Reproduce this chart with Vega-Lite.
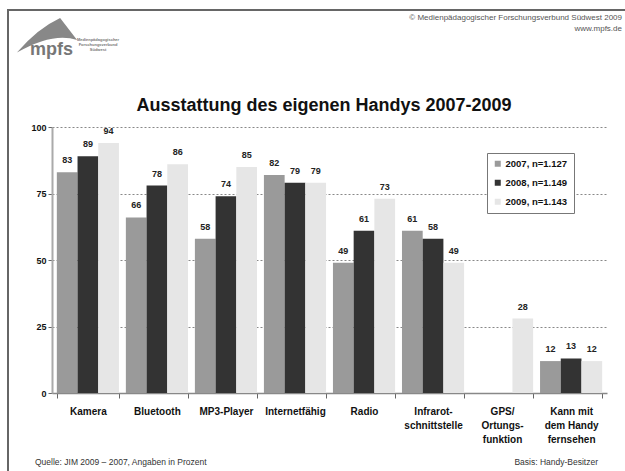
{
  "$schema": "https://vega.github.io/schema/vega-lite/v6.json",
  "autosize": {"type": "none"},
  "padding": {"left": 52, "top": 127, "right": 18, "bottom": 78},
  "width": 555,
  "height": 266,
  "background": "white",
  "config": {
    "font": "Liberation Sans",
    "view": {"stroke": null}
  },
  "layer": [
    {
      "data": {"values": [{}]},
      "mark": {"type": "rect", "fill": null, "stroke": "#666", "strokeWidth": 2},
      "encoding": {
        "x": {"value": -44},
        "x2": {"value": 700},
        "y": {"value": -117},
        "y2": {"value": 420}
      }
    },
    {
      "data": {"values": [{}]},
      "mark": {"type": "text", "text": "Ausstattung des eigenen Handys 2007-2009", "fontSize": 18, "fontWeight": "bold", "color": "#111", "align": "center", "baseline": "alphabetic"},
      "encoding": {"x": {"value": 272}, "y": {"value": -16}}
    },
    {
      "data": {"values": [{}]},
      "mark": {"type": "point", "shape": "M -0.94 0.55 Q -0.3 -0.2 0.41 -0.53 L 0.94 0.16 Q 0.2 -0.1 -0.94 0.55 Z", "filled": true, "fill": "#888", "opacity": 1, "size": 4096},
      "encoding": {"x": {"value": -5}, "y": {"value": -92}}
    },
    {
      "data": {"values": [{}]},
      "mark": {"type": "text", "text": "mpfs", "fontSize": 18, "fontWeight": "bold", "color": "#777", "align": "left", "baseline": "alphabetic"},
      "encoding": {"x": {"value": -22}, "y": {"value": -72}}
    },
    {
      "data": {"values": [{"t": "Medienpädagogischer", "yy": -87}, {"t": "Forschungsverbund", "yy": -82}, {"t": "Südwest", "yy": -77}]},
      "mark": {"type": "text", "fontSize": 4, "fontWeight": "bold", "color": "#777", "align": "center"},
      "encoding": {"x": {"value": 46}, "y": {"field": "yy", "type": "quantitative", "scale": null}, "text": {"field": "t"}}
    },
    {
      "data": {"values": [{}]},
      "mark": {"type": "text", "text": "© Medienpädagogischer Forschungsverbund Südwest 2009", "fontSize": 8, "color": "#555", "align": "right", "baseline": "alphabetic"},
      "encoding": {"x": {"value": 570}, "y": {"value": -107}}
    },
    {
      "data": {"values": [{}]},
      "mark": {"type": "text", "text": "www.mpfs.de", "fontSize": 8, "color": "#555", "align": "right", "baseline": "alphabetic"},
      "encoding": {"x": {"value": 570}, "y": {"value": -96}}
    },
    {
      "data": {"values": [{}]},
      "mark": {"type": "text", "text": "Quelle: JIM 2009 – 2007, Angaben in Prozent", "fontSize": 8.5, "color": "#333", "align": "left", "baseline": "alphabetic"},
      "encoding": {"x": {"value": -17}, "y": {"value": 338}}
    },
    {
      "data": {"values": [{}]},
      "mark": {"type": "text", "text": "Basis: Handy-Besitzer", "fontSize": 8.5, "color": "#333", "align": "right", "baseline": "alphabetic"},
      "encoding": {"x": {"value": 546}, "y": {"value": 338}}
    },
    {
      "data": {
        "values": [
          {"Kategorie": "Kamera", "Jahr": "2007", "Wert": 83},
          {"Kategorie": "Kamera", "Jahr": "2008", "Wert": 89},
          {"Kategorie": "Kamera", "Jahr": "2009", "Wert": 94},
          {"Kategorie": "Bluetooth", "Jahr": "2007", "Wert": 66},
          {"Kategorie": "Bluetooth", "Jahr": "2008", "Wert": 78},
          {"Kategorie": "Bluetooth", "Jahr": "2009", "Wert": 86},
          {"Kategorie": "MP3-Player", "Jahr": "2007", "Wert": 58},
          {"Kategorie": "MP3-Player", "Jahr": "2008", "Wert": 74},
          {"Kategorie": "MP3-Player", "Jahr": "2009", "Wert": 85},
          {"Kategorie": "Internetfähig", "Jahr": "2007", "Wert": 82},
          {"Kategorie": "Internetfähig", "Jahr": "2008", "Wert": 79},
          {"Kategorie": "Internetfähig", "Jahr": "2009", "Wert": 79},
          {"Kategorie": "Radio", "Jahr": "2007", "Wert": 49},
          {"Kategorie": "Radio", "Jahr": "2008", "Wert": 61},
          {"Kategorie": "Radio", "Jahr": "2009", "Wert": 73},
          {"Kategorie": "Infrarot-|schnittstelle", "Jahr": "2007", "Wert": 61},
          {"Kategorie": "Infrarot-|schnittstelle", "Jahr": "2008", "Wert": 58},
          {"Kategorie": "Infrarot-|schnittstelle", "Jahr": "2009", "Wert": 49},
          {"Kategorie": "GPS/|Ortungs-|funktion", "Jahr": "2009", "Wert": 28},
          {"Kategorie": "Kann mit|dem Handy|fernsehen", "Jahr": "2007", "Wert": 12},
          {"Kategorie": "Kann mit|dem Handy|fernsehen", "Jahr": "2008", "Wert": 13},
          {"Kategorie": "Kann mit|dem Handy|fernsehen", "Jahr": "2009", "Wert": 12}
        ]
      },
      "encoding": {
        "x": {
          "field": "Kategorie",
          "type": "nominal",
          "sort": null,
          "scale": {"paddingInner": 0.1, "paddingOuter": 0.07},
          "axis": {
            "title": null,
            "labelAngle": 0,
            "labelExpr": "split(datum.label, '|')",
            "labelFontSize": 10,
            "labelFontWeight": "bold",
            "labelColor": "#111",
            "labelPadding": 8,
            "labelLineHeight": 14,
            "labelBaseline": "top",
            "tickBand": "extent",
            "tickSize": 5,
            "tickColor": "#666",
            "domainColor": "#888",
            "domainWidth": 1.5
          }
        },
        "xOffset": {"field": "Jahr", "type": "nominal", "sort": ["2007", "2008", "2009"]},
        "y": {
          "field": "Wert",
          "type": "quantitative",
          "scale": {"domain": [0, 100], "nice": false},
          "axis": {
            "title": null,
            "values": [0, 25, 50, 75, 100],
            "grid": true,
            "gridDash": [2, 2],
            "gridColor": "#888",
            "labelFontSize": 9,
            "labelFontWeight": "bold",
            "labelColor": "#111",
            "tickSize": 4,
            "tickColor": "#666",
            "domainColor": "#aaa",
            "domainWidth": 2,
            "labelPadding": 2
          }
        }
      },
      "layer": [
        {
          "mark": {"type": "bar"},
          "encoding": {
            "color": {
              "field": "Jahr",
              "type": "nominal",
              "scale": {"domain": ["2007", "2008", "2009"], "range": ["#9a9a9a", "#333333", "#e6e6e6"]},
              "legend": {
                "title": null,
                "orient": "none",
                "legendX": 435,
                "legendY": 26,
                "labelExpr": "datum.label == '2007' ? '2007, n=1.127' : datum.label == '2008' ? '2008, n=1.149' : '2009, n=1.143'",
                "labelFontSize": 9.5,
                "labelFontWeight": "bold",
                "labelColor": "#111",
                "symbolType": "square",
                "symbolSize": 36,
                "symbolStrokeWidth": 0,
                "labelOffset": 3,
                "rowPadding": 8,
                "padding": 6,
                "strokeColor": "#777",
                "fillColor": "white"
              }
            }
          }
        },
        {
          "mark": {"type": "text", "dy": -7, "fontSize": 9, "fontWeight": "bold", "color": "#222", "baseline": "bottom"},
          "encoding": {"text": {"field": "Wert", "type": "quantitative"}}
        }
      ]
    }
  ]
}
